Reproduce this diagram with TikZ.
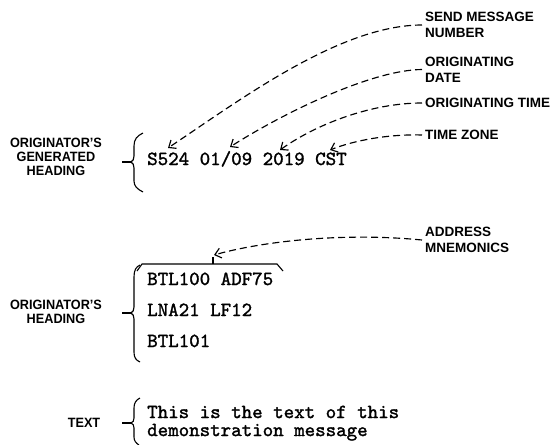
\documentclass[tikz,border=0pt]{standalone}
\usepackage{fontspec}
\newfontfamily\rlabfont{Liberation Sans}
\newfontfamily\llabfont{Liberation Sans}[FakeStretch=0.94]
\setmonofont{lmmono10-regular.otf}[FakeBold=1.5]
\usetikzlibrary{arrows.meta}
\begin{document}
\begin{tikzpicture}[x=1pt,y=1pt,
  rlab/.style={font=\rlabfont\bfseries\fontsize{13.5}{16}\selectfont, align=left, inner sep=3pt, anchor=west},
  llab/.style={font=\llabfont\bfseries\fontsize{13.5}{14}\selectfont, align=center, inner sep=0pt},
  mono/.style={font=\ttfamily\fontsize{20}{18}\selectfont, inner sep=0pt, anchor=base west},
  ptr/.style={line width=1.15pt, dash pattern=on 7pt off 4pt, -{Straight Barb[length=6pt,width=10pt]}},
  brc/.style={line width=1.1pt}]
\useasboundingbox (0,0) rectangle (558,-445);

% right-hand labels
\node[rlab] (send) at (422,-25) {SEND MESSAGE\\NUMBER};
\node[rlab] (date) at (422,-69.5) {ORIGINATING\\DATE};
\node[rlab] (time) at (422,-103) {ORIGINATING TIME};
\node[rlab] (zone) at (422,-135) {TIME ZONE};
\node[rlab] (addr) at (422,-240) {ADDRESS\\MNEMONICS};

% left-hand labels
\node[llab] (gen) at (56,-157) {ORIGINATOR’S\\GENERATED\\HEADING};
\node[llab] (ohd) at (56,-312) {ORIGINATOR’S\\HEADING};
\node[llab] (txl) at (84,-423) {TEXT};

% typewritten message
\node[mono] (hdr) at (147,-165) {S524 01/09 2019 CST};
\node[mono] (ad1) at (147,-285) {BTL100 ADF75};
\node[mono] (ad2) at (147,-316) {LNA21 LF12};
\node[mono] (ad3) at (147,-347) {BTL101};
\node[mono, anchor=west, align=left] (txt) at (147,-423.2)
  {This is the text of this\\demonstration message};

% braces
\draw[brc] (143,-133) .. controls (137,-136) and (134,-139) .. (134,-146) -- (134,-156)
  .. controls (134,-159) and (133,-161) .. (131,-162)
  .. controls (133,-163) and (134,-165) .. (134,-168) -- (134,-181)
  .. controls (134,-186) and (137,-189) .. (143,-192);
\draw[brc] (122,-162) -- (131,-162);

\draw[brc] (140,-265) .. controls (136,-267) and (134,-270) .. (134,-277) -- (134,-307)
  .. controls (134,-310) and (133,-312) .. (131,-313)
  .. controls (133,-314) and (134,-316) .. (134,-319) -- (134,-352)
  .. controls (134,-358) and (136,-360) .. (140,-362);
\draw[brc] (122,-313) -- (131,-313);
\draw[brc] (137,-271) -- (142,-264) -- (277,-264) -- (283,-271);
\draw[brc] (213,-257) -- (213,-264);

\draw[brc] (140,-398) .. controls (136,-400) and (134,-403) .. (134,-408) -- (134,-418)
  .. controls (134,-421) and (133,-422) .. (131,-423)
  .. controls (133,-424) and (134,-425) .. (134,-428) -- (134,-437)
  .. controls (134,-441) and (136,-443) .. (139,-445);
\draw[brc] (122,-423) -- (131,-423);

% pointers
\coordinate (t1) at (168,-148);
\coordinate (t2) at (230,-147);
\coordinate (t3) at (280,-150);
\coordinate (t4) at (330,-150);
\coordinate (ta) at (214,-255);
\draw[ptr] (send.west) .. controls (340,-25) and (240,-100) .. (t1);
\draw[ptr] (date.west) .. controls (370,-70) and (280,-115) .. (t2);
\draw[ptr] (time.west) .. controls (370,-103) and (315,-125) .. (t3);
\draw[ptr] (zone.west) .. controls (390,-134) and (355,-140) .. (t4);
\draw[ptr] (addr.west) .. controls (340,-232) and (260,-242) .. (ta);
\end{tikzpicture}
\end{document}
